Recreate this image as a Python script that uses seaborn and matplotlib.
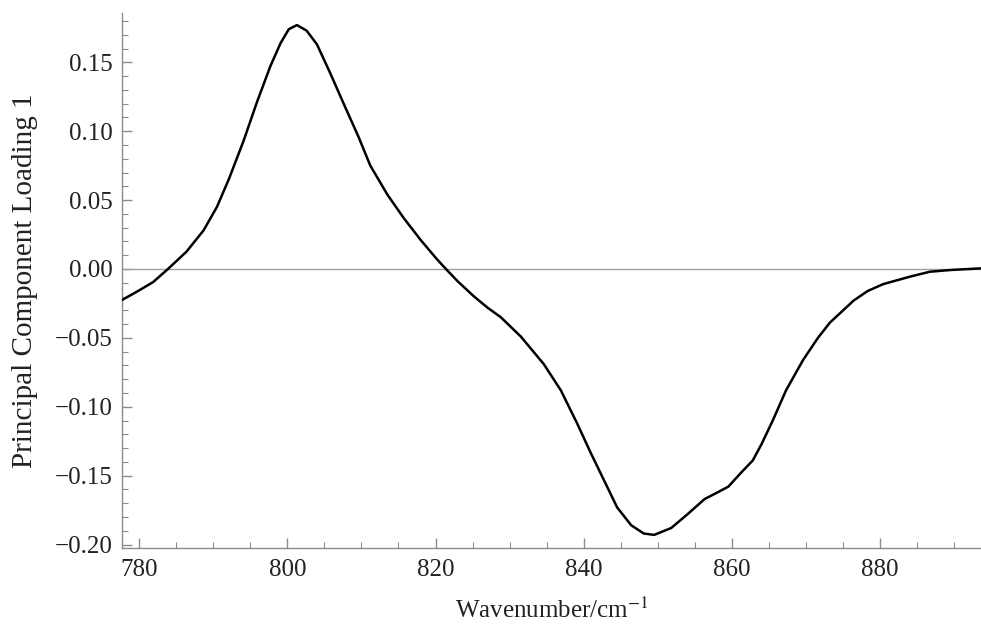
import numpy as np
import pandas as pd
import matplotlib
matplotlib.use("Agg")
import matplotlib.pyplot as plt
from matplotlib.ticker import MultipleLocator, FuncFormatter
import seaborn as sns

# values
wavenumber = [777.7, 779.7, 781.9, 783.9, 786.4, 788.7, 790.5, 792.1, 794.1, 795.9,
              797.7, 799.1, 800.2, 801.3, 802.6, 804.0, 805.8, 807.6, 809.6, 811.2,
              813.5, 815.7, 818.0, 820.2, 821.4, 823.0, 825.2, 827.0, 828.8, 831.5,
              834.6, 836.9, 839.1, 840.9, 842.7, 844.5, 846.4, 848.1, 849.5, 851.8,
              854.0, 856.3, 858.1, 859.5, 861.2, 862.8, 864.0, 865.5, 867.3, 869.6,
              871.6, 873.2, 876.4, 878.3, 880.4, 884.0, 886.7, 889.6, 893.8]
loading = [-0.0225, -0.0165, -0.0095, 0.000, 0.0126, 0.028, 0.045, 0.065, 0.093, 0.121,
           0.147, 0.164, 0.174, 0.177, 0.173, 0.163, 0.142, 0.120, 0.096, 0.075,
           0.054, 0.037, 0.021, 0.007, 0.000, -0.009, -0.020, -0.028, -0.035, -0.049,
           -0.069, -0.088, -0.112, -0.133, -0.153, -0.173, -0.186, -0.192, -0.193, -0.188,
           -0.178, -0.167, -0.162, -0.158, -0.148, -0.139, -0.127, -0.110, -0.088, -0.066,
           -0.050, -0.039, -0.023, -0.016, -0.011, -0.0056, -0.002, -0.0007, 0.0005]

df = pd.DataFrame({"wavenumber": wavenumber, "loading": loading})

sns.set_theme(style="ticks")
plt.rcParams["font.family"] = ["Liberation Serif", "DejaVu Serif"]
plt.rcParams["mathtext.fontset"] = "stix"

GRAY = "#8c8c8c"

fig = plt.figure(figsize=(9.81, 6.28), dpi=100)
ax = fig.add_axes([0.1244, 0.1274, 0.8756, 0.8524])

ax.axhline(0, color="#a0a0a0", lw=1.0, zorder=1)
sns.lineplot(data=df, x="wavenumber", y="loading", sort=False, estimator=None,
             color="black", lw=1.8, ax=ax, zorder=3)

ax.set_xlim(777.7, 893.6)
ax.set_ylim(-0.2025, 0.186)

ax.xaxis.set_major_locator(MultipleLocator(20))
ax.xaxis.set_minor_locator(MultipleLocator(5))
ax.yaxis.set_major_locator(MultipleLocator(0.05))
ax.yaxis.set_minor_locator(MultipleLocator(0.01))
ax.yaxis.set_major_formatter(FuncFormatter(lambda v, p: f"{v:.2f}".replace("-", "\u2212")))

for side in ["top", "right"]:
    ax.spines[side].set_visible(False)
for side in ["left", "bottom"]:
    ax.spines[side].set_color(GRAY)
    ax.spines[side].set_linewidth(1.0)

ax.tick_params(which="major", direction="in", length=7, width=1.0, color=GRAY,
               labelsize=18, labelcolor="#222222")
ax.tick_params(which="minor", direction="in", length=4, width=0.8, color=GRAY)
ax.tick_params(axis="x", which="major", pad=8)
ax.tick_params(axis="y", which="major", pad=7)

ax.set_xlabel("Wavenumber/cm$^{-1}$", fontsize=18, color="#222222", labelpad=12)
ax.set_ylabel("Principal Component Loading 1", fontsize=21, color="#222222", labelpad=12)

fig.savefig("out.png", dpi=100)
